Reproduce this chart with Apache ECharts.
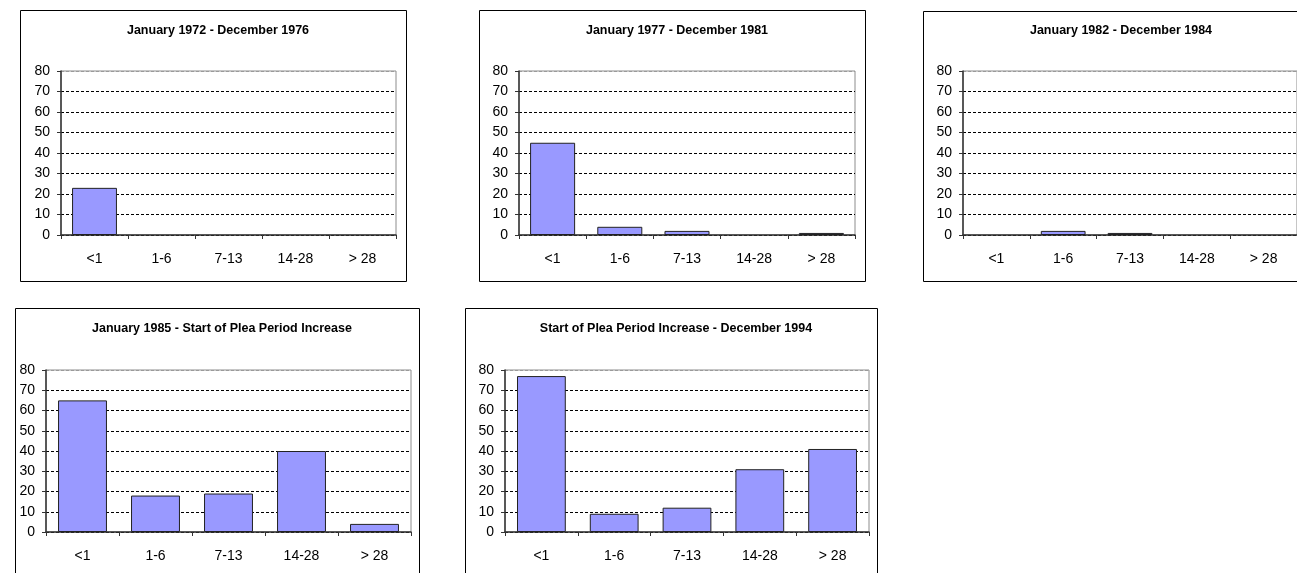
<!DOCTYPE html>
<html>
<head>
<meta charset="utf-8">
<script src="https://cdn.jsdelivr.net/npm/echarts@6/dist/echarts.min.js"></script>
<style>
html,body{margin:0;padding:0;background:#fff;}
#c{width:1297px;height:573px;}
</style>
</head>
<body>
<div id="c"></div>
<script>
var categories = ['<1', '1-6', '7-13', '14-28', '> 28'];
var yTicks = [0, 10, 20, 30, 40, 50, 60, 70, 80];
var titles = [
  'January 1972 - December 1976',
  'January 1977 - December 1981',
  'January 1982 - December 1984',
  'January 1985 - Start of Plea Period Increase',
  'Start of Plea Period Increase - December 1994'
];
var values1972 = [23, 0, 0, 0, 0];
var values1977 = [45, 4, 2, 0, 1];
var values1982 = [0, 2, 1, 0, 0];
var values1985 = [65, 18, 19, 40, 4];
var valuesPlea = [77, 9, 12, 31, 41];
var allValues = [values1972, values1977, values1982, values1985, valuesPlea];

// layout (pixels)
var grids = [
  {left: 61, top: 71, width: 335, height: 164},
  {left: 519, top: 71, width: 336, height: 164},
  {left: 963, top: 71, width: 334, height: 164},
  {left: 46, top: 370, width: 365, height: 162},
  {left: 505, top: 370, width: 364, height: 162}
];
var frames = [
  {x: 20, y: 10, w: 386, h: 271},
  {x: 479, y: 10, w: 386, h: 271},
  {x: 923, y: 11, w: 400, h: 270},
  {x: 15, y: 308, w: 404, h: 280},
  {x: 465, y: 308, w: 412, h: 280}
];
var titleY = [19, 19, 19, 317, 317];

var FONT = '"Liberation Sans", Arial, sans-serif';
var gridColors = [];
for (var i = 0; i < yTicks.length; i++) gridColors.push(i === yTicks.length - 1 ? '#9a9a9a' : '#000');

var option = {
  animation: false,
  backgroundColor: '#fff',
  title: [],
  grid: [],
  xAxis: [],
  yAxis: [],
  series: [],
  graphic: []
};

for (var k = 0; k < 5; k++) {
  var g = grids[k], f = frames[k];
  option.graphic.push({
    type: 'rect', z: -1,
    shape: {x: f.x + 0.5, y: f.y + 0.5, width: f.w, height: f.h},
    style: {fill: '#fff', stroke: '#000', lineWidth: 1}
  });
  option.title.push({
    text: titles[k],
    left: f.x + f.w / 2 - (k === 2 ? 7 : 0),
    top: titleY[k],
    textAlign: 'center',
    textStyle: {fontFamily: FONT, fontSize: 12.5, fontWeight: 'bold', color: '#000'}
  });
  option.grid.push({
    left: g.left, top: g.top, width: g.width, height: g.height,
    show: true, borderColor: '#8c8c8c', borderWidth: 1, backgroundColor: '#fff',
    containLabel: false
  });
  option.xAxis.push({
    type: 'category', gridIndex: k, data: categories,
    boundaryGap: true,
    axisLine: {show: true, lineStyle: {color: '#333', width: 1.5}},
    axisTick: {show: true, length: 4, alignWithLabel: false, lineStyle: {color: '#333', width: 1}},
    axisLabel: {fontFamily: FONT, fontSize: 14, color: '#000', margin: 17},
    splitLine: {show: false}
  });
  option.yAxis.push({
    type: 'value', gridIndex: k, min: 0, max: 80, interval: 10,
    axisLine: {show: true, lineStyle: {color: '#333', width: 1.5}},
    axisTick: {show: true, length: 4, lineStyle: {color: '#333', width: 1}},
    axisLabel: {fontFamily: FONT, fontSize: 14, color: '#000', margin: 11},
    splitLine: {show: true, lineStyle: {color: gridColors, width: 1, type: [3, 2]}}
  });
  option.series.push({
    type: 'bar', xAxisIndex: k, yAxisIndex: k,
    data: allValues[k].map(function (v) {
      return v === 0 ? {value: v, itemStyle: {borderWidth: 0, opacity: 0}} : v;
    }),
    barCategoryGap: '33%',
    itemStyle: {color: '#9999ff', borderColor: '#222', borderWidth: 1}
  });
}

var chart = echarts.init(document.getElementById('c'), null, {renderer: 'canvas'});
chart.setOption(option);
</script>
</body>
</html>
